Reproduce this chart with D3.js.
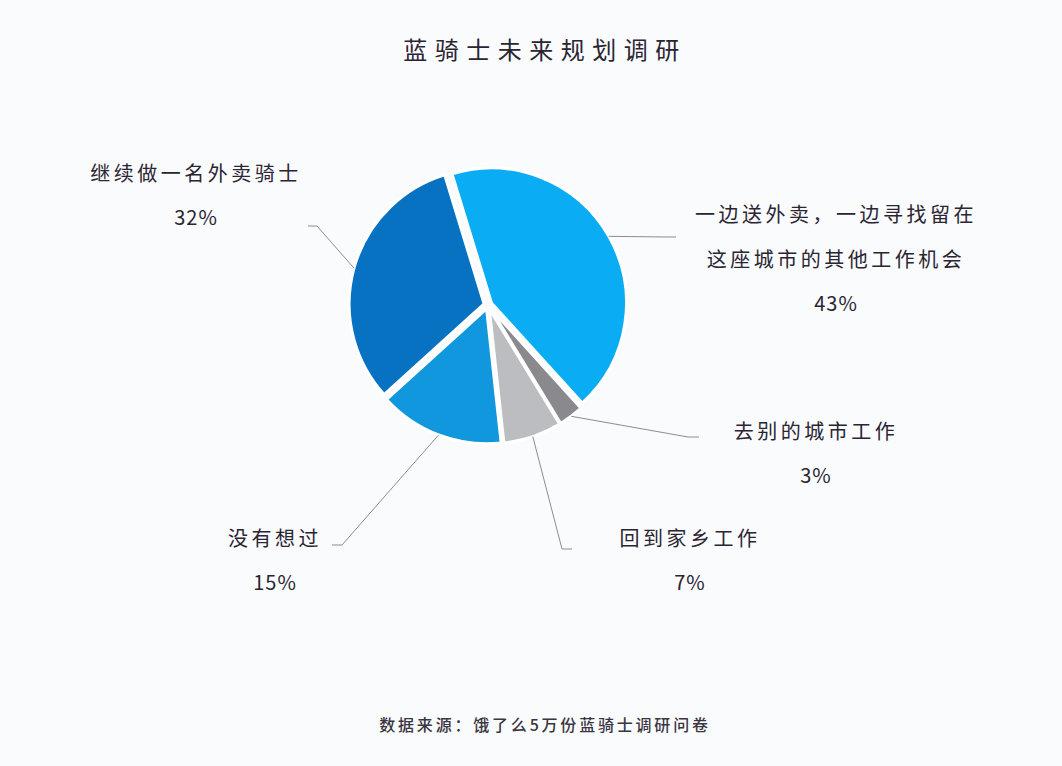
<!DOCTYPE html>
<html>
<head>
<meta charset="utf-8">
<script src="https://cdn.jsdelivr.net/npm/d3@7"></script>
<style>
  body { margin: 0; background: #f9fbfd; }
  text { font-family: "Noto Sans CJK SC", "Noto Sans", sans-serif; fill: #2b2532; }
</style>
</head>
<body>
<div id="chart"></div>
<script>
// survey answers, clockwise from the top
const categories = ['一边送外卖，一边寻找留在\n这座城市的其他工作机会', '去别的城市工作', '回到家乡工作', '没有想过', '继续做一名外卖骑士']
const values = [43, 3, 7, 15, 32]
const colors = ['#0aacf3', '#8a8a8e', '#bbbdc0', '#1197de', '#0872c2']

// where each label sits: elbow of leader, end of leader, label centre
const labelPos = [
  {elbow: [668, 237], end: [676, 237], tx: 836, ty: 213},
  {elbow: [688, 437], end: [699, 437], tx: 816, ty: 430},
  {elbow: [562, 549], end: [572, 549], tx: 690, ty: 537},
  {elbow: [342, 545], end: [332, 545], tx: 275, ty: 537},
  {elbow: [317, 226], end: [308, 226], tx: 196, ty: 172}
]

let w = 1062,
    h = 766,
    cx = 488,
    cy = 305,
    r = 135

let svg = d3.select('#chart').append('svg').attr('width', w).attr('height', h)

svg.append('text')
  .attr('x', 545).attr('y', 48)
  .attr('text-anchor', 'middle')
  .attr('dominant-baseline', 'central')
  .style('font-size', '24px')
  .style('letter-spacing', '7.5px')
  .text('蓝骑士未来规划调研')

svg.append('text')
  .attr('x', 545).attr('y', 724)
  .attr('text-anchor', 'middle')
  .attr('dominant-baseline', 'central')
  .style('font-size', '16px')
  .style('letter-spacing', '2.8px')
  .style('font-weight', 500)
  .style('fill', '#3a3540')
  .text('数据来源：饿了么5万份蓝骑士调研问卷')

let pie = d3.pie().sort(null)
  .startAngle(-17 * Math.PI / 180)
  .endAngle(343 * Math.PI / 180)
let arcs = pie(values)

let arc = d3.arc().innerRadius(0).outerRadius(r)
let edge = d3.arc().innerRadius(r + 4).outerRadius(r + 4)

let g = svg.append('g').attr('transform', `translate(${cx},${cy})`)

// slightly pulled apart slices
g.selectAll('path.slice').data(arcs).enter().append('path')
  .attr('class', 'slice')
  .attr('d', arc)
  .attr('fill', (d, i) => colors[i])
  .attr('stroke', '#ffffff')
  .attr('stroke-width', 3)
  .attr('stroke-linejoin', 'round')
  .attr('transform', d => {
    let a = (d.startAngle + d.endAngle) / 2
    return `translate(${Math.sin(a) * 4},${-Math.cos(a) * 4})`
  })

// leader lines
let line = d3.line()
svg.selectAll('path.leader').data(arcs).enter().append('path')
  .attr('class', 'leader')
  .attr('d', (d, i) => {
    let p = edge.centroid(d)
    return line([[p[0] + cx, p[1] + cy], labelPos[i].elbow, labelPos[i].end])
  })
  .attr('fill', 'none')
  .attr('stroke', '#8d8c93')
  .attr('stroke-width', 1)

// labels
arcs.forEach((d, i) => {
  let lines = categories[i].split('\n')
  let lp = labelPos[i]
  let t = svg.append('g')
  lines.forEach((s, j) => {
    t.append('text')
      .attr('x', lp.tx).attr('y', lp.ty + j * 45)
      .attr('text-anchor', 'middle')
      .attr('dominant-baseline', 'central')
      .style('font-size', '20px')
      .style('letter-spacing', '3.5px')
      .text(s)
  })
  t.append('text')
    .attr('x', lp.tx).attr('y', lp.ty + lines.length * 45 - 1)
    .attr('text-anchor', 'middle')
    .attr('dominant-baseline', 'central')
    .style('font-size', '20px')
    .style('letter-spacing', '1px')
    .text(values[i] + '%')
})
</script>
</body>
</html>
